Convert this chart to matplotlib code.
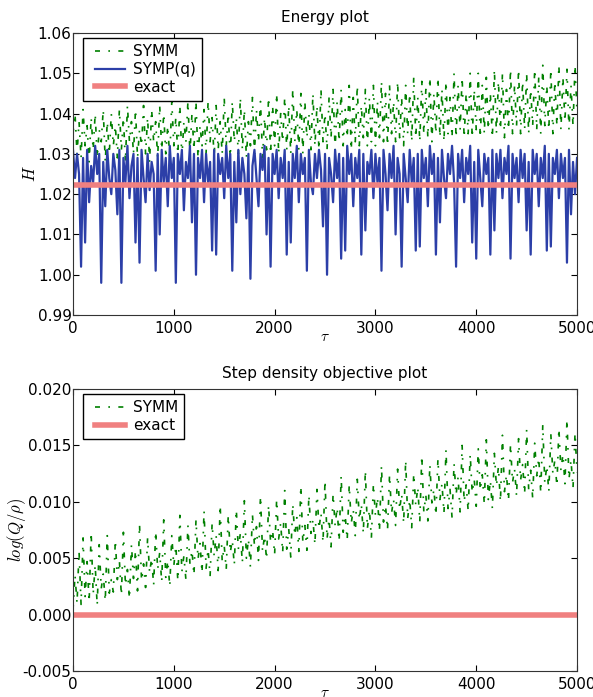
import numpy as np
import matplotlib
matplotlib.use('Agg')
from matplotlib import pyplot as plt
from matplotlib.lines import Line2D
from matplotlib.legend_handler import HandlerLine2D

plt.rcParams['font.family'] = ['DejaVu Sans']
plt.rcParams['mathtext.fontset'] = 'cm'
plt.rcParams['axes.unicode_minus'] = False

# time grid (tau), one sample every 20
tau = np.arange(0, 5001, 20)

# energy H, stored as thousandths above 1.000
symm_H_milli = [
    35, 40, 30, 38, 29, 41, 32, 37, 28, 39,
    31, 40, 29, 36, 33, 41, 28, 38, 30, 40,
    32, 37, 29, 41, 31, 39, 28, 42, 33, 38,
    30, 41, 29, 36, 32, 42, 30, 39, 28, 41,
    33, 38, 29, 42, 31, 40, 30, 37, 29, 43,
    32, 39, 30, 42, 29, 38, 33, 43, 30, 40,
    31, 43, 29, 37, 32, 41, 30, 43, 33, 39,
    29, 42, 31, 38, 30, 44, 32, 40, 29, 43,
    33, 39, 30, 44, 31, 41, 29, 38, 32, 44,
    30, 41, 33, 43, 29, 39, 31, 44, 30, 42,
    32, 45, 30, 40, 33, 44, 31, 42, 30, 46,
    33, 41, 31, 45, 30, 43, 34, 40, 31, 45,
    32, 42, 31, 46, 33, 40, 31, 44, 34, 46,
    31, 43, 33, 46, 32, 41, 34, 47, 31, 44,
    33, 47, 32, 42, 34, 46, 32, 44, 33, 47,
    32, 43, 34, 48, 33, 45, 32, 47, 35, 43,
    33, 48, 34, 44, 32, 47, 35, 45, 33, 49,
    34, 44, 33, 48, 35, 46, 34, 49, 33, 45,
    35, 49, 34, 46, 33, 48, 35, 44, 34, 50,
    34, 47, 36, 49, 34, 45, 35, 50, 34, 46,
    36, 50, 34, 47, 35, 49, 36, 45, 34, 51,
    35, 48, 36, 50, 34, 46, 36, 51, 35, 47,
    37, 51, 35, 48, 36, 50, 35, 46, 37, 51,
    36, 49, 35, 52, 37, 47, 36, 51, 35, 48,
    37, 52, 36, 49, 38, 51, 36, 47, 37, 52,
    40]

sympq_H_milli = [
    31, 24, 30, 25, 2, 29, 8, 31, 18, 27,
    23, 32, 25, 30, -2, 28, 17, 31, 24, 20,
    30, 26, 15, 31, -2, 29, 23, 32, 19, 27,
    30, 8, 29, 3, 31, 24, 18, 30, 21, 28,
    25, 1, 30, 10, 31, 23, 29, 17, 32, 24,
    29, -2, 30, 25, 31, 16, 28, 24, 32, 13,
    30, 0, 29, 24, 31, 18, 30, 23, 28, 6,
    31, 5, 30, 25, 29, 19, 32, 24, 30, 1,
    28, 13, 31, 20, 29, 25, 14, 30, -1, 27,
    31, 24, 17, 30, 26, 32, 10, 29, 2, 30,
    25, 31, 19, 29, 24, 31, 5, 28, 8, 30,
    24, 32, 18, 30, 25, 29, 1, 31, 23, 20,
    30, 24, 31, 26, 12, 30, 0, 29, 25, 18,
    31, 24, 30, 4, 29, 6, 32, 25, 30, 17,
    29, 24, 31, 5, 30, 11, 28, 25, 31, 19,
    30, 23, 29, 1, 31, 25, 16, 30, 24, 32,
    10, 29, 25, 2, 30, 24, 18, 31, 23, 29,
    6, 30, 7, 31, 24, 29, 17, 32, 25, 30,
    5, 29, 13, 31, 24, 19, 30, 25, 32, 23,
    2, 30, 24, 31, 18, 29, 25, 32, 8, 28,
    4, 31, 24, 17, 30, 25, 29, 5, 31, 11,
    30, 24, 31, 19, 29, 25, 32, 4, 30, 24,
    29, 18, 31, 24, 30, 11, 28, 5, 31, 25,
    30, 17, 29, 24, 32, 6, 30, 7, 29, 25,
    31, 19, 30, 24, 29, 3, 31, 15, 28, 20,
    29]

exact_H = 1.0222

# step density objective log(Q/rho), stored in units of 1e-4
symm_logQ_e4 = [
    4, 35, 10, 56, 9, 68, 16, 47, 11, 73,
    18, 44, 8, 62, 23, 36, 12, 70, 19, 31,
    20, 66, 31, 48, 17, 73, 26, 40, 14, 62,
    32, 57, 21, 80, 30, 45, 24, 68, 37, 50,
    26, 74, 40, 55, 29, 84, 33, 48, 25, 70,
    43, 61, 30, 88, 38, 52, 31, 79, 45, 57,
    35, 84, 49, 63, 37, 92, 41, 58, 34, 81,
    52, 70, 39, 97, 47, 61, 40, 88, 55, 66,
    44, 93, 58, 72, 46, 101, 50, 67, 42, 89,
    61, 78, 48, 105, 56, 70, 49, 97, 64, 75,
    53, 102, 67, 81, 55, 110, 58, 76, 51, 98,
    70, 86, 56, 114, 64, 79, 57, 106, 72, 84,
    62, 111, 76, 90, 64, 119, 67, 85, 60, 107,
    79, 95, 65, 123, 73, 88, 66, 115, 81, 93,
    70, 120, 84, 98, 72, 128, 76, 93, 68, 116,
    88, 104, 74, 132, 82, 97, 75, 124, 90, 102,
    79, 129, 93, 107, 81, 137, 85, 102, 77, 125,
    97, 113, 82, 141, 91, 106, 83, 133, 99, 111,
    88, 138, 102, 116, 90, 146, 94, 111, 86, 134,
    106, 122, 91, 150, 100, 115, 92, 142, 108, 120,
    96, 147, 110, 124, 98, 155, 102, 119, 94, 143,
    114, 131, 100, 159, 109, 124, 101, 151, 117, 129,
    105, 156, 119, 133, 107, 164, 111, 128, 103, 152,
    123, 139, 108, 168, 117, 132, 109, 160, 125, 137,
    114, 165, 128, 142, 116, 173, 120, 137, 112, 161,
    126]

exact_logQ = 0.0

symm_H = 1 + np.array(symm_H_milli) / 1000.0
sympq_H = 1 + np.array(sympq_H_milli) / 1000.0
symm_logQ = np.array(symm_logQ_e4) / 1e4

green = (0, 0.5, 0)
blue = '#2c3fa8'
red = '#f08080'
dashdot = (3, 5, 1, 5)

fig = plt.figure(figsize=(5.93, 6.97), dpi=100)
ax1 = fig.add_axes([0.1231, 0.548, 0.85, 0.4047])
ax2 = fig.add_axes([0.1231, 0.0373, 0.85, 0.4046])

# energy plot
ax1.plot(tau, symm_H, color=green, lw=1.2, dashes=dashdot, label='SYMM')
ax1.plot(tau, sympq_H, color=blue, lw=1.6, label='SYMP(q)')
ax1.plot(tau, np.full(len(tau), exact_H), color=red, lw=4, label='exact')
ax1.set_xlim(0, 5000)
ax1.set_ylim(0.99, 1.06)
ax1.set_yticks([0.99, 1.00, 1.01, 1.02, 1.03, 1.04, 1.05, 1.06])
ax1.set_yticklabels(['0.99', '1.00', '1.01', '1.02', '1.03', '1.04', '1.05', '1.06'])
ax1.set_title('Energy plot', fontsize=11, pad=8)
ax1.set_xlabel(r'$\tau$', fontsize=11, labelpad=-5)
ax1.set_ylabel(r'$H$', fontsize=12)
ax1.yaxis.set_label_coords(-0.067, 0.5)

# step density objective plot
ax2.plot(tau, symm_logQ, color=green, lw=1.2, dashes=dashdot, label='SYMM')
ax2.plot(tau, np.full(len(tau), exact_logQ), color=red, lw=4, label='exact')
ax2.set_xlim(0, 5000)
ax2.set_ylim(-0.005, 0.020)
ax2.set_yticks([-0.005, 0.0, 0.005, 0.010, 0.015, 0.020])
ax2.set_yticklabels(['-0.005', '0.000', '0.005', '0.010', '0.015', '0.020'])
ax2.set_title('Step density objective plot', fontsize=11, pad=8)
ax2.set_xlabel(r'$\tau$', fontsize=11, labelpad=-5)
ax2.set_ylabel(r'$log(Q/\rho)$', fontsize=12)
ax2.yaxis.set_label_coords(-0.089, 0.5)

for ax in (ax1, ax2):
    ax.set_xticks([0, 1000, 2000, 3000, 4000, 5000])
    ax.tick_params(direction='in', top=True, right=True, labelsize=11, length=4)
    ax.tick_params(axis='y', pad=1)
    ax.tick_params(axis='x', pad=4)
    for s in ax.spines.values():
        s.set_color('#333333')
    leg = ax.legend(loc='upper left', bbox_to_anchor=(0.0198, 0.982),
                    borderaxespad=0, fancybox=False, labelspacing=0.18,
                    handlelength=2.35, borderpad=0.4, handletextpad=0.52,
                    fontsize=11, framealpha=1,
                    handler_map={Line2D: HandlerLine2D(xpad=0.4)})
    leg.get_frame().set_edgecolor('black')

fig.savefig('out.png', dpi=100)
